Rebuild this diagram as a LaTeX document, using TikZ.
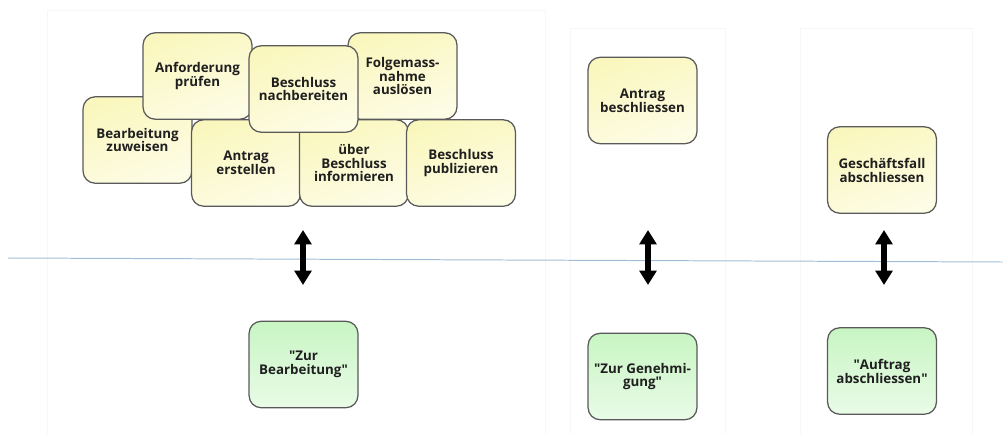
\documentclass[tikz,border=0pt]{standalone}
\usepackage{fontspec}
\setmainfont{Open Sans}
\usepackage{tikz}
\usetikzlibrary{arrows.meta,positioning,calc}

\definecolor{taskfill}{RGB}{250,247,190}
\definecolor{statefill}{RGB}{200,245,195}
\definecolor{boxline}{RGB}{90,90,90}
\definecolor{laneline}{RGB}{160,190,215}
\definecolor{panelline}{RGB}{247,247,247}

\newcommand{\qm}{\textquotedbl}

\tikzset{
  task/.style={draw=boxline, line width=0.9pt, rounded corners=0.3cm,
    top color=taskfill, bottom color=taskfill!40, shading angle=20,
    minimum width=2.72cm, minimum height=2.16cm, align=center,
    text=black!88, font=\fontsize{9.5}{9.9}\selectfont\bfseries, inner sep=1pt},
  state/.style={task, top color=statefill, bottom color=statefill!40},
  panel/.style={draw=panelline, fill=white, line width=0.6pt},
  link/.style={line width=0.15cm, {Triangle[length=0.36cm,width=0.42cm]}-{Triangle[length=0.36cm,width=0.42cm]}}
}

\begin{document}
\begin{tikzpicture}[x=0.025cm, y=-0.025cm]
\useasboundingbox (0,0) rectangle (1003,434);

% Background panels
\draw[panel] (47,434) -- (47,10) -- (545,10) -- (545,434);
\draw[panel] (570,434) -- (570,28) -- (725,28) -- (725,434);
\draw[panel] (800,434) -- (800,28) -- (972,28) -- (972,434);

% Lane separator
\coordinate (lane west) at (8,258);
\coordinate (lane east) at (1003,262);
\draw[laneline, line width=0.7pt] (lane west) -- (lane east);

% Tasks of the first phase (lower row first, upper row on top)
\node[task] (zuweisen) at (137.5,140) {Bearbeitung\\zuweisen};
\node[task] (erstellen) at (246,163) {Antrag\\erstellen};
\node[task] (informieren) at (354,163) {über\\Beschluss\\informieren};
\node[task] (publizieren) at (461,163) {Beschluss\\publizieren};
\node[task] (pruefen) at (197.5,76) {Anforderung\\prüfen};
\node[task] (folge) at (402.5,76) {Folgemass-\\nahme\\auslösen};
\node[task] (nachbereiten) at (303.5,89) {Beschluss\\nachbereiten};

% Tasks of the other phases
\node[task] (beschliessen) at (642.5,100.5) {Antrag\\beschliessen};
\node[task] (abschliessen) at (882,170) {Geschäftsfall\\abschliessen};

% States
\node[state] (bearbeitung) at (303.5,364.5) {\qm Zur\\Bearbeitung\qm};
\node[state] (genehmigung) at (642.5,376.5) {\qm Zur Genehmi-\\gung\qm};
\node[state] (auftrag) at (882,371) {\qm Auftrag\\abschliessen\qm};

% Links between tasks and states
\foreach \x/\name in {303/one, 648/two, 884/three} {
  \coordinate (\name top) at (\x,230);
  \coordinate (\name bottom) at (\x,285);
  \draw[link] (\name top) -- (\name bottom);
}

\end{tikzpicture}
\end{document}
